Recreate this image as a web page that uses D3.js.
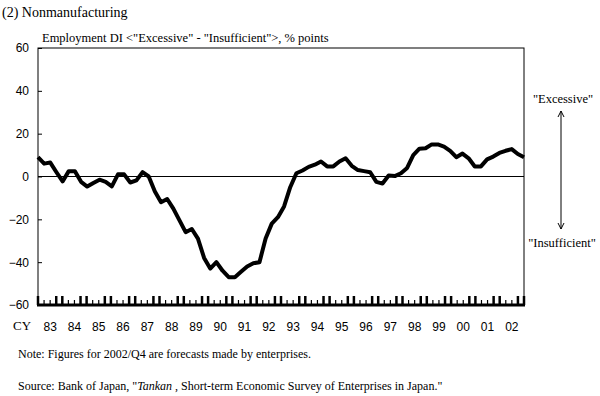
<!DOCTYPE html>
<html><head><meta charset="utf-8">
<script src="https://cdn.jsdelivr.net/npm/d3@7"></script>
<style>body{margin:0;background:#fff}svg{display:block}</style>
</head><body>
<svg id="c" width="600" height="396"></svg>
<script>
const years = ["83","84","85","86","87","88","89","90","91","92","93","94","95","96","97","98","99","00","01","02"];
const quarters = ["Q1","Q2","Q3","Q4"];
const employmentDI = [
  9, 6, 6.5, 2,   -2.3, 2.5, 2.5, -2.5,  -4.7, -3, -1.5, -2.5,  -4.6, 1, 1, -2.8,
  -1.8, 2, 0, -7,  -12, -10.5, -15, -20.5,  -26, -24.5, -29, -38,  -43, -40, -44, -47,
  -47, -44.5, -42, -40.5,  -40, -29, -22, -19,  -14, -5, 1.5, 2.8,  4.5, 5.5, 7, 4.7,
  4.7, 7, 8.5, 5,  3, 2.5, 2, -2.5,  -3.3, 0.5, 0.2, 1.5,  4, 10, 13, 13.2,
  15, 15, 14, 12,  9, 10.7, 8.5, 4.7,  4.7, 8, 9.3, 11,  12, 12.8, 10.5, 9
];
const yTicks = [60, 40, 20, 0, -20, -40, -60];

const svg = d3.select("#c");
const L = 38, R = 524, T = 48, B = 305;
const serif = "Liberation Serif, Times New Roman, serif";
const sans = "Liberation Sans, Arial, sans-serif";

const periods = [];
years.forEach(y => quarters.forEach(q => periods.push(y + q)));

const x = d3.scalePoint().domain(periods).range([L, R]);
const xBand = d3.scaleLinear().domain([0, years.length]).range([L, R]);
const y = d3.scaleLinear().domain([-60, 60]).range([B, T]);

// frame
svg.append("rect").attr("x", L).attr("y", T).attr("width", R - L).attr("height", B - T)
  .attr("fill", "none").attr("stroke", "#000").attr("stroke-width", 1);
// zero line
svg.append("line").attr("x1", L).attr("x2", R).attr("y1", y(0)).attr("y2", y(0))
  .attr("stroke", "#000").attr("stroke-width", 1);

// y axis
const yAxis = d3.axisLeft(y).tickValues(yTicks).tickSize(-4).tickPadding(9).tickFormat(d3.format("d"));
const ga = svg.append("g").attr("transform", `translate(${L},0)`).call(yAxis);
ga.select(".domain").remove();
ga.selectAll("line").attr("stroke", "#000");
ga.selectAll("text").attr("font-family", sans).attr("font-size", 12).attr("fill", "#000");

// bottom axis thick
svg.append("line").attr("x1", L - 1).attr("x2", R + 1).attr("y1", B).attr("y2", B)
  .attr("stroke", "#000").attr("stroke-width", 3);
// quarter ticks
const qTicks = d3.range(0, years.length * 4 + 1).map(i => i / 4);
svg.append("g").selectAll("line").data(qTicks).join("line")
  .attr("x1", d => xBand(d)).attr("x2", d => xBand(d))
  .attr("y1", B)
  .attr("y2", d => { const f = d % 1; return (f === 0 || f === 0.75) ? B - 9 : B - 5; })
  .attr("stroke", "#000")
  .attr("stroke-width", d => { const f = d % 1; return (f === 0 || f === 0.75) ? 2.5 : 1.2; });

// x labels
svg.append("g").selectAll("text").data(years).join("text")
  .attr("x", (d, i) => xBand(i + 0.5)).attr("y", 331)
  .attr("text-anchor", "middle").attr("font-family", sans).attr("font-size", 12)
  .text(d => d);
svg.append("text").attr("x", 13).attr("y", 330).attr("font-family", serif).attr("font-size", 13).text("CY");

// line
const line = d3.line().x((d, i) => x(periods[i])).y(d => y(d));
svg.append("path").datum(employmentDI).attr("d", line)
  .attr("fill", "none").attr("stroke", "#000").attr("stroke-width", 4).attr("stroke-linejoin", "round");

// titles
svg.append("text").attr("x", 2).attr("y", 17).attr("font-family", serif).attr("font-size", 14)
  .text("(2) Nonmanufacturing");
svg.append("text").attr("x", 42).attr("y", 42).attr("font-family", serif).attr("font-size", 12.5)
  .text('Employment DI <"Excessive" - "Insufficient">, % points');

// right annotations
svg.append("text").attr("x", 563).attr("y", 103).attr("text-anchor", "middle")
  .attr("font-family", serif).attr("font-size", 12.5).text('"Excessive"');
svg.append("text").attr("x", 562).attr("y", 247).attr("text-anchor", "middle")
  .attr("font-family", serif).attr("font-size", 12.5).text('"Insufficient"');
const ax = 561;
svg.append("line").attr("x1", ax).attr("x2", ax).attr("y1", 111).attr("y2", 229).attr("stroke", "#000");
svg.append("path").attr("d", `M${ax-3},${117} L${ax},${111} L${ax+3},${117}`).attr("fill", "none").attr("stroke", "#000");
svg.append("path").attr("d", `M${ax-3},${223} L${ax},${229} L${ax+3},${223}`).attr("fill", "none").attr("stroke", "#000");

// notes
svg.append("text").attr("x", 18).attr("y", 358).attr("font-family", serif).attr("font-size", 12)
  .text("Note: Figures for 2002/Q4 are forecasts made by enterprises.");
const src = svg.append("text").attr("x", 18).attr("y", 390).attr("font-family", serif).attr("font-size", 12);
src.append("tspan").text('Source: Bank of Japan, "');
src.append("tspan").attr("font-style", "italic").text("Tankan");
src.append("tspan").text(' , Short-term Economic Survey of Enterprises in Japan."');
</script>
</body></html>
